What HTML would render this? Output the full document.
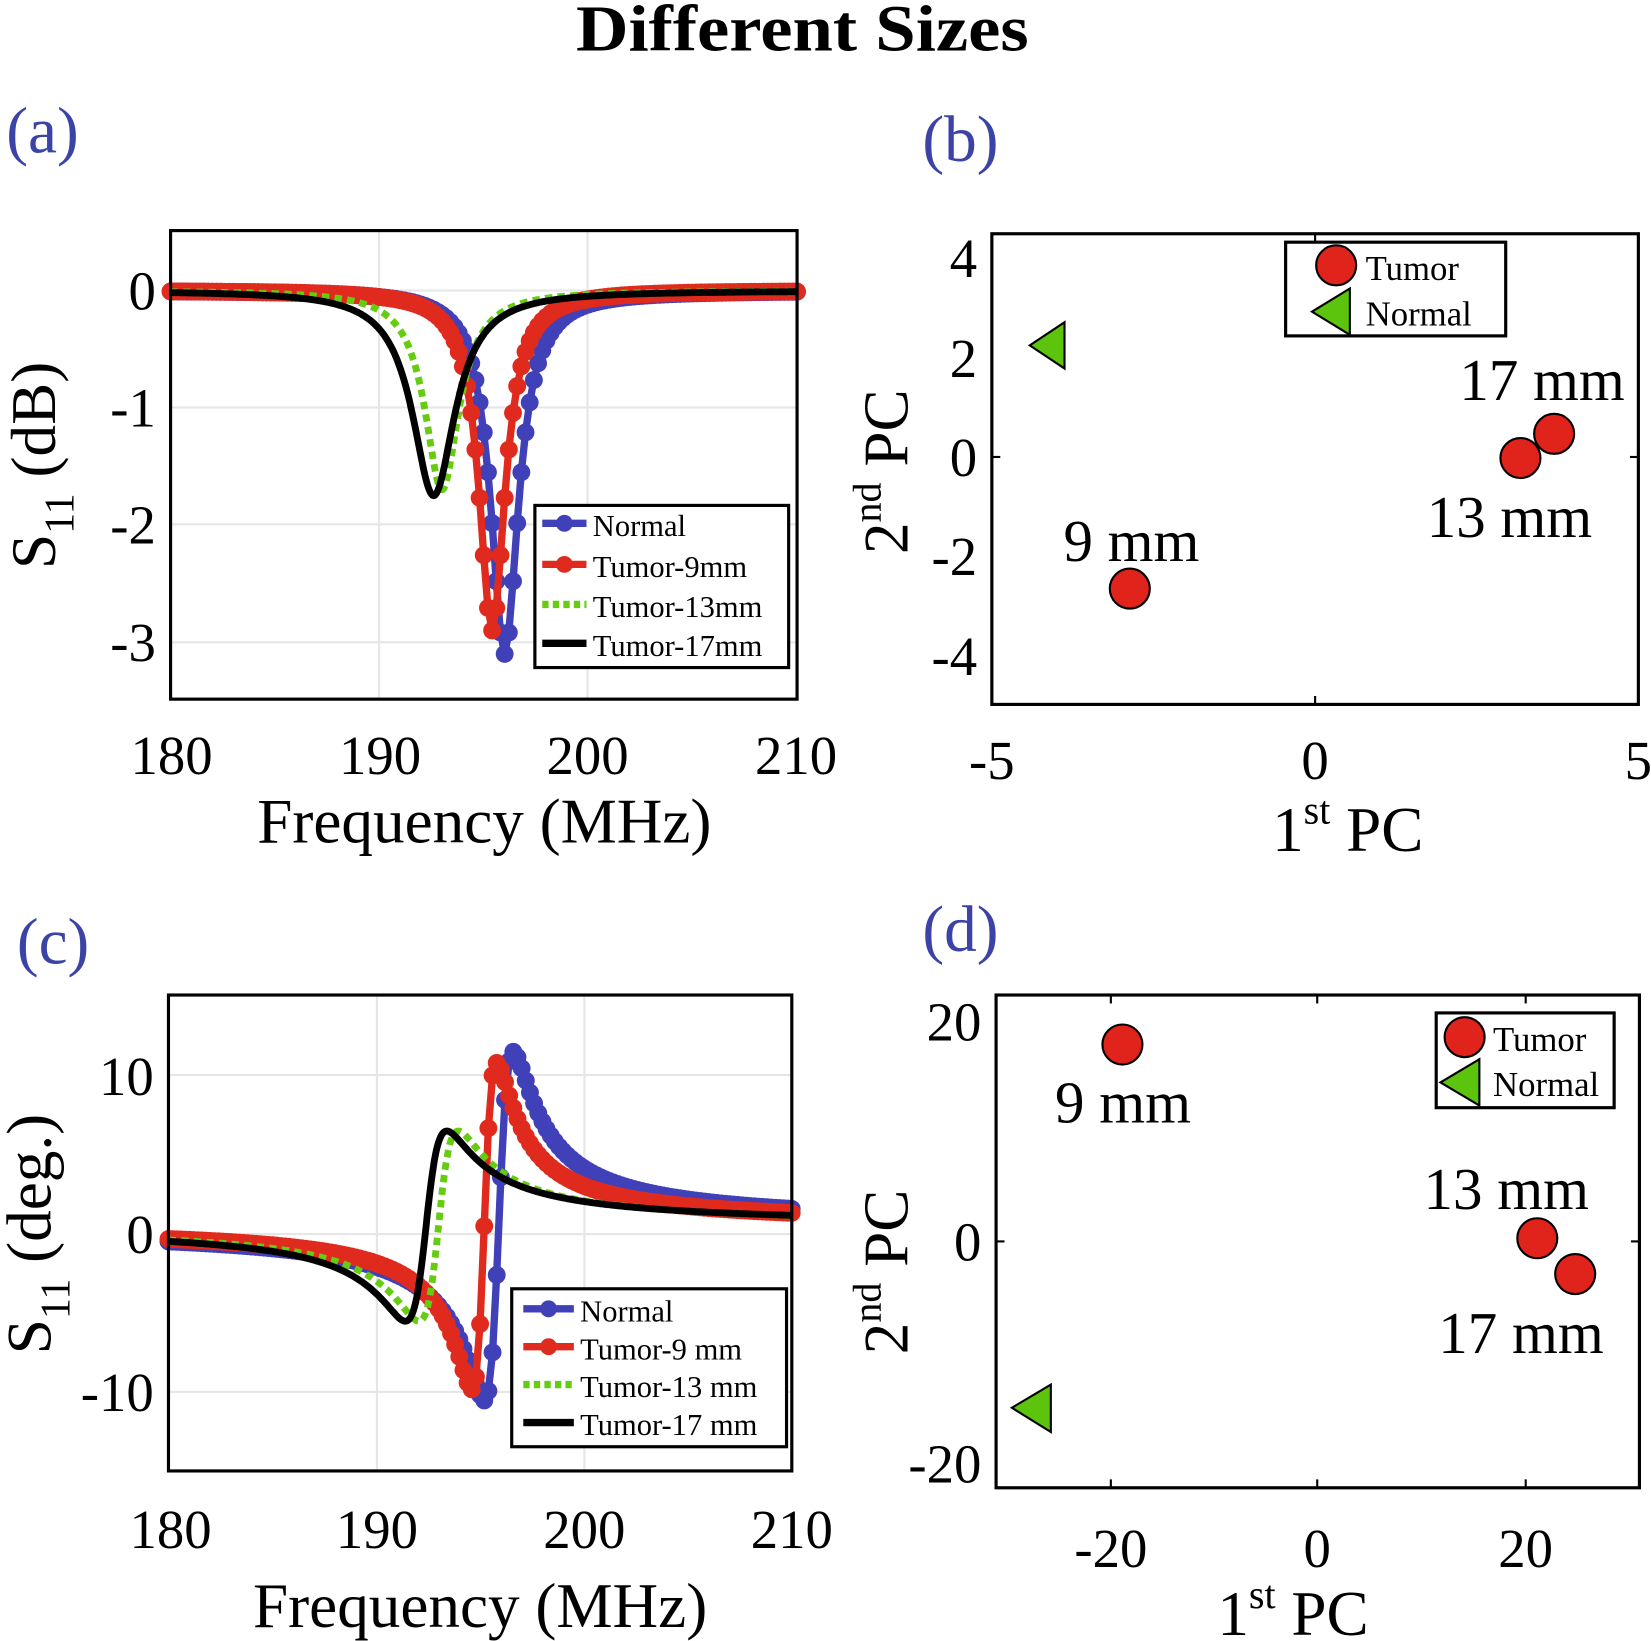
<!DOCTYPE html>
<html><head><meta charset="utf-8"><style>
html,body{margin:0;padding:0;background:#fff;}
svg{display:block;}
text{font-family:"Liberation Serif",serif;}
</style></head><body>
<svg id="s" width="1651" height="1641" viewBox="0 0 1568 1558.5" preserveAspectRatio="none" xmlns="http://www.w3.org/2000/svg">
<rect width="1568" height="1559" fill="#fff"/>
<text x="762" y="48" font-size="62" font-weight="bold" text-anchor="middle" textLength="430" lengthAdjust="spacingAndGlyphs">Different Sizes</text>
<g fill="#3b44a6" font-size="62">
<text x="6" y="145">(a)</text><text x="876" y="153">(b)</text>
<text x="16" y="915">(c)</text><text x="876" y="903">(d)</text>
</g>
<g stroke="#e6e6e6" stroke-width="2">
<line x1="360" y1="219" x2="360" y2="664"/><line x1="558" y1="219" x2="558" y2="664"/>
<line x1="162" y1="276" x2="757" y2="276"/><line x1="162" y1="387" x2="757" y2="387"/>
<line x1="162" y1="498" x2="757" y2="498"/><line x1="162" y1="610" x2="757" y2="610"/>
<line x1="358" y1="945" x2="358" y2="1397"/><line x1="555" y1="945" x2="555" y2="1397"/>
<line x1="160" y1="1021" x2="752" y2="1021"/><line x1="160" y1="1172" x2="752" y2="1172"/>
<line x1="160" y1="1322" x2="752" y2="1322"/>
</g>
<g id="curves"></g>
<g fill="none" stroke="#000" stroke-width="3">
<rect x="162" y="219" width="595" height="445"/>
<rect x="160" y="945" width="592" height="452"/>
<rect x="942" y="222" width="614" height="447"/>
<rect x="946" y="945" width="611" height="468"/>
</g>
<g stroke="#000" stroke-width="2">
<line x1="1249" y1="222" x2="1249" y2="230"/><line x1="1249" y1="669" x2="1249" y2="661"/>
<line x1="942" y1="434" x2="950" y2="434"/><line x1="1556" y1="434" x2="1548" y2="434"/>
<line x1="1055" y1="945" x2="1055" y2="953"/><line x1="1251" y1="945" x2="1251" y2="953"/><line x1="1449" y1="945" x2="1449" y2="953"/>
<line x1="1055" y1="1413" x2="1055" y2="1405"/><line x1="1251" y1="1413" x2="1251" y2="1405"/><line x1="1449" y1="1413" x2="1449" y2="1405"/>
<line x1="946" y1="1179" x2="954" y2="1179"/><line x1="1557" y1="1179" x2="1549" y2="1179"/>
</g>
<g font-size="52" text-anchor="middle">
<text x="163" y="735">180</text><text x="361" y="735">190</text><text x="558" y="735">200</text><text x="756" y="735">210</text>
<text x="162" y="1470">180</text><text x="358" y="1470">190</text><text x="555" y="1470">200</text><text x="752" y="1470">210</text>
<text x="942" y="740">-5</text><text x="1249" y="740">0</text><text x="1556" y="740">5</text>
<text x="1055" y="1488">-20</text><text x="1251" y="1488">0</text><text x="1449" y="1488">20</text>
</g>
<g font-size="52" text-anchor="end">
<text x="148" y="294">0</text><text x="148" y="405">-1</text><text x="148" y="516">-2</text><text x="148" y="628">-3</text>
<text x="146" y="1040">10</text><text x="146" y="1190">0</text><text x="146" y="1340">-10</text>
<text x="928" y="263">4</text><text x="928" y="358">2</text><text x="928" y="452">0</text><text x="928" y="546">-2</text><text x="928" y="641">-4</text>
<text x="932" y="988">20</text><text x="932" y="1197">0</text><text x="932" y="1408">-20</text>
</g>
<g font-size="60" text-anchor="middle">
<text x="460" y="800">Frequency (MHz)</text>
<text x="456" y="1545">Frequency (MHz)</text>
<text x="1280" y="808">1<tspan font-size="38" dy="-26">st</tspan><tspan dy="26"> PC</tspan></text>
<text x="1228" y="1553">1<tspan font-size="38" dy="-26">st</tspan><tspan dy="26"> PC</tspan></text>
<text transform="translate(52,442) rotate(-90)">S<tspan font-size="40" dy="18">11</tspan><tspan dy="-18"> (dB)</tspan></text>
<text transform="translate(48,1172) rotate(-90)">S<tspan font-size="40" dy="18">11</tspan><tspan dy="-18"> (deg.)</tspan></text>
<text transform="translate(862,448) rotate(-90)">2<tspan font-size="38" dy="-26">nd</tspan><tspan dy="26"> PC</tspan></text>
<text transform="translate(862,1208) rotate(-90)">2<tspan font-size="38" dy="-26">nd</tspan><tspan dy="26"> PC</tspan></text>
</g>
<g fill="#e0231b" stroke="#000" stroke-width="2">
<circle cx="1073" cy="559" r="19"/><circle cx="1444" cy="435" r="19"/><circle cx="1476" cy="412" r="19"/>
<circle cx="1066" cy="992" r="19"/><circle cx="1460" cy="1176" r="19"/><circle cx="1496" cy="1210" r="19"/>
</g>
<g fill="#5cc40c" stroke="#000" stroke-width="2">
<polygon points="978,328 1011,306 1011,350"/>
<polygon points="961,1337 998,1315 998,1360"/>
</g>
<g font-size="56">
<text x="1386" y="380">17 mm</text><text x="1355" y="510">13 mm</text><text x="1010" y="533">9 mm</text>
<text x="1002" y="1066">9 mm</text><text x="1352" y="1148">13 mm</text><text x="1366" y="1285">17 mm</text>
</g>
<rect x="1221" y="230" width="209" height="89" fill="#fff" stroke="#000" stroke-width="3"/>
<circle cx="1269" cy="252" r="19" fill="#e0231b" stroke="#000" stroke-width="2"/>
<polygon points="1246,296 1282,274 1282,318" fill="#5cc40c" stroke="#000" stroke-width="2"/>
<g font-size="33"><text x="1297" y="266">Tumor</text><text x="1297" y="309">Normal</text></g>
<rect x="1364" y="962" width="169" height="90" fill="#fff" stroke="#000" stroke-width="3"/>
<circle cx="1391" cy="985" r="19" fill="#e0231b" stroke="#000" stroke-width="2"/>
<polygon points="1368,1028 1405,1006 1405,1050" fill="#5cc40c" stroke="#000" stroke-width="2"/>
<g font-size="33"><text x="1418" y="998">Tumor</text><text x="1418" y="1041">Normal</text></g>
<rect x="508" y="480" width="241" height="154" fill="#fff" stroke="#000" stroke-width="3"/>
<g font-size="29">
<line x1="515" y1="497" x2="557" y2="497" stroke="#4040b8" stroke-width="7"/><circle cx="536" cy="497" r="8" fill="#4040b8"/>
<text x="563" y="509">Normal</text>
<line x1="515" y1="536" x2="557" y2="536" stroke="#e02a1e" stroke-width="7"/><circle cx="536" cy="536" r="8" fill="#e02a1e"/>
<text x="563" y="548">Tumor-9mm</text>
<line x1="515" y1="574" x2="557" y2="574" stroke="#66cc11" stroke-width="7" stroke-dasharray="6,4"/>
<text x="563" y="586">Tumor-13mm</text>
<line x1="515" y1="611" x2="557" y2="611" stroke="#000" stroke-width="7"/>
<text x="563" y="623">Tumor-17mm</text>
</g>
<rect x="486" y="1224" width="261" height="150" fill="#fff" stroke="#000" stroke-width="3"/>
<g font-size="29">
<line x1="497" y1="1243" x2="545" y2="1243" stroke="#4040b8" stroke-width="7"/><circle cx="521" cy="1243" r="8" fill="#4040b8"/>
<text x="551" y="1255">Normal</text>
<line x1="497" y1="1279" x2="545" y2="1279" stroke="#e02a1e" stroke-width="7"/><circle cx="521" cy="1279" r="8" fill="#e02a1e"/>
<text x="551" y="1291">Tumor-9 mm</text>
<line x1="497" y1="1315" x2="545" y2="1315" stroke="#66cc11" stroke-width="7" stroke-dasharray="6,4"/>
<text x="551" y="1327">Tumor-13 mm</text>
<line x1="497" y1="1351" x2="545" y2="1351" stroke="#000" stroke-width="7"/>
<text x="551" y="1363">Tumor-17 mm</text>
</g>
</svg>
<script>
(function(){
var g=document.getElementById('curves'),NS='http://www.w3.org/2000/svg';
function add(tag,at){var e=document.createElementNS(NS,tag);for(var k in at)e.setAttribute(k,at[k]);g.appendChild(e);return e;}
function series(fx,fy,fn,step,col,dash,mark){
 var pts=[];for(var f=180;f<=210.0001;f+=step){pts.push([fx(f),fy(fn(f))]);}
 var d='M'+pts.map(function(p){return p[0].toFixed(1)+','+p[1].toFixed(1)}).join('L');
 add('path',{d:d,fill:'none',stroke:col,'stroke-width':mark?7:6.5,'stroke-dasharray':dash||'none','stroke-linejoin':'round'});
 if(mark){pts.forEach(function(p){add('circle',{cx:p[0],cy:p[1],r:8.5,fill:col});});}
}
var ax=function(f){return 162+(f-180)*19.83;}, ay=function(v){return 276-v*111.3;};
function lor(f0,d,w){return function(f){var x=(f-f0)/w;return -d/(1+x*x);};}
series(ax,ay,lor(196,3.1,0.8),0.2,'#4040b8',null,true);
series(ax,ay,lor(195.4,2.9,0.75),0.2,'#e02a1e',null,true);
series(ax,ay,lor(193.0,1.7,1.0),0.05,'#66cc11','7,5',false);
series(ax,ay,lor(192.6,1.75,1.25),0.05,'#000',null,false);
var cx=function(f){return 160+(f-180)*19.73;}, cy=function(v){return 1172-v*15.05;};
function disp(f0,A,w){return function(f){var x=(f-f0)/w;return A*2*x/(1+x*x)+0.5;};}
series(cx,cy,disp(195.9,11,0.7),0.2,'#4040b8',null,true);
series(cx,cy,disp(195.2,10.3,0.6),0.2,'#e02a1e',null,true);
series(cx,cy,disp(193.0,6,0.95),0.05,'#66cc11','7,5',false);
series(cx,cy,disp(192.4,6,1.0),0.05,'#000',null,false);
})();
</script>
</body></html>
